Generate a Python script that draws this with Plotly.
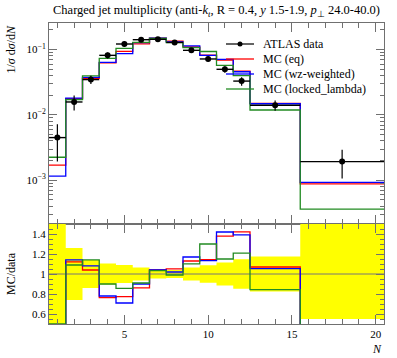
import plotly.graph_objects as go

# ---------------- data ----------------
bin_edges = [0.5, 1.5, 2.5, 3.5, 4.5, 5.5, 6.5, 7.5, 8.5, 9.5, 10.5, 11.5, 12.5, 15.5, 20.5]

data_vals = [4.5e-3, 0.0158, 0.0348, 0.0818, 0.122, 0.142, 0.144, 0.129, 0.0976,
             0.072, 0.050, 0.033, 0.0141, 1.93e-3]
data_err_up = [2.7e-3, 0.0041, 0.0049, 0.0086, 0.011, 0.0092, 0.0065, 0.0052, 0.0063,
               0.0063, 0.0058, 0.0049, 0.00247, 1.0e-3]
data_err_dn = [2.57e-3, 0.0041, 0.0049, 0.0086, 0.011, 0.0092, 0.0065, 0.0052, 0.0063,
               0.0063, 0.0058, 0.0049, 0.00247, 0.87e-3]

mc_eq = [1.71e-3, 0.0177, 0.0362, 0.0625, 0.0944, 0.1224, 0.1498, 0.1355, 0.1103,
         0.0824, 0.0689, 0.0469, 0.01509, 8.8e-4]
mc_wz = [1.16e-3, 0.01804, 0.0376, 0.0638, 0.0866, 0.1278, 0.1498, 0.1316, 0.1142,
         0.0817, 0.071, 0.0459, 0.01485, 9.3e-4]
mc_locked = [2.25e-3, 0.01722, 0.0397, 0.0736, 0.1044, 0.1292, 0.149, 0.1277, 0.1074,
             0.0936, 0.0575, 0.0399, 0.01191, 3.6e-4]

series_names = ["MC (eq)", "MC (wz-weighted)", "MC (locked_lambda)"]
series_colors = ["#ff0000", "#0000ff", "#228b22"]

x_tick_vals = [5, 10, 15, 20]
ratio_tick_vals = [0.6, 0.8, 1.0, 1.2, 1.4]
ratio_tick_text = ["0.6", "0.8", "1", "1.2", "1.4"]
main_tick_vals = [1e-3, 1e-2, 1e-1]
main_tick_text = ["10<sup>\u22123</sup>", "10<sup>\u22122</sup>", "10<sup>\u22121</sup>"]

# ---------------- geometry ----------------
W, H = 397, 358
L, R, T, B = 49, 13, 23, 34
plot_h = H - T - B
split_px = 224  # boundary between main and ratio panel
ratio_top = (H - B - split_px) / plot_h

def px_x(x):
    return (x - L) / (W - L - R)

def px_y(y):
    return (H - B - y) / plot_h

FONT = "Liberation Serif"
centers = [(bin_edges[i] + bin_edges[i + 1]) / 2 for i in range(len(data_vals))]
half_w = [(bin_edges[i + 1] - bin_edges[i]) / 2 for i in range(len(data_vals))]

fig = go.Figure()

# ---------------- main panel ----------------
for vals, name, col in zip([mc_eq, mc_wz, mc_locked], series_names, series_colors):
    fig.add_trace(go.Scatter(
        x=bin_edges, y=list(vals) + [vals[-1]], mode="lines", line_shape="hv",
        line=dict(color=col, width=1.3), name=name, showlegend=False,
        xaxis="x", yaxis="y"))

fig.add_trace(go.Scatter(
    x=centers, y=data_vals, mode="markers", name="ATLAS data", showlegend=False,
    marker=dict(color="black", size=6),
    error_x=dict(type="data", array=half_w, color="black", thickness=1.4, width=0),
    error_y=dict(type="data", array=data_err_up, arrayminus=data_err_dn, symmetric=False,
                 color="black", thickness=1.2, width=0),
    xaxis="x", yaxis="y"))

# ---------------- ratio panel ----------------
band_lo = [1 - dn / v for dn, v in zip(data_err_dn, data_vals)]
band_hi = [1 + up / v for up, v in zip(data_err_up, data_vals)]
band_lo[0], band_hi[0] = 0.0, 3.0
band_lo[-1], band_hi[-1] = 1 - data_err_dn[-1] / data_vals[-1], 3.0

fig.add_trace(go.Scatter(
    x=bin_edges, y=band_lo + [band_lo[-1]], mode="lines", line_shape="hv",
    line=dict(width=0, color="yellow"), showlegend=False, hoverinfo="skip",
    xaxis="x2", yaxis="y2"))
fig.add_trace(go.Scatter(
    x=bin_edges, y=band_hi + [band_hi[-1]], mode="lines", line_shape="hv",
    line=dict(width=0, color="yellow"), fill="tonexty", fillcolor="#ffff00",
    showlegend=False, hoverinfo="skip", xaxis="x2", yaxis="y2"))
fig.add_trace(go.Scatter(
    x=[bin_edges[0], bin_edges[-1]], y=[1, 1], mode="lines",
    line=dict(color="#777777", width=1), showlegend=False, hoverinfo="skip",
    xaxis="x2", yaxis="y2"))

for vals, name, col in zip([mc_eq, mc_wz, mc_locked], series_names, series_colors):
    ratio = [m / d for m, d in zip(vals, data_vals)]
    fig.add_trace(go.Scatter(
        x=bin_edges, y=ratio + [ratio[-1]], mode="lines", line_shape="hv",
        line=dict(color=col, width=1.3), showlegend=False,
        xaxis="x2", yaxis="y2"))

# ---------------- axes ----------------
AX = "#707070"
minor_log = [m * 10 ** e for e in (-4, -3, -2, -1) for m in range(2, 10)]
common = dict(showline=True, linecolor=AX, linewidth=1, mirror="allticks",
              ticks="inside", tickcolor=AX, showgrid=False, zeroline=False,
              automargin=False,
              tickfont=dict(family=FONT, size=11, color="black"))

fig.update_layout(
    width=W, height=H,
    margin=dict(l=L, r=R, t=T, b=B, autoexpand=False),
    paper_bgcolor="white", plot_bgcolor="white",
    showlegend=False, hovermode=False,
    xaxis=dict(domain=[0, 1], range=[0.5, 20.5], anchor="y", showticklabels=False,
               tickvals=x_tick_vals, ticklen=9,
               minor=dict(dtick=1, ticklen=5, ticks="inside", tickcolor=AX, showgrid=False),
               **common),
    yaxis=dict(domain=[ratio_top, 1], type="log", range=[-3.67, -0.592], anchor="x",
               tickvals=main_tick_vals, ticktext=main_tick_text, ticklen=8,
               minor=dict(tickvals=minor_log, ticklen=4, ticks="inside", tickcolor=AX,
                          showgrid=False),
               **common),
    xaxis2=dict(domain=[0, 1], range=[0.5, 20.5], anchor="y2",
                tickvals=x_tick_vals, ticklen=9,
                minor=dict(dtick=1, ticklen=5, ticks="inside", tickcolor=AX, showgrid=False),
                **common),
    yaxis2=dict(domain=[0, ratio_top], range=[0.5, 1.5], anchor="x2",
                tickvals=ratio_tick_vals, ticktext=ratio_tick_text, ticklen=8,
                minor=dict(dtick=0.05, tick0=0.5, ticklen=4, ticks="inside", tickcolor=AX,
                           showgrid=False),
                **common),
)

# ---------------- text ----------------
ann = []
ann.append(dict(text="Charged jet multiplicity (anti-<i>k</i><sub><i>t</i></sub>, R = 0.4, "
                     "<i>y</i> 1.5-1.9, <i>p</i><sub>\u22a5</sub> 24.0-40.0)",
                x=0.5, y=px_y(11), xref="paper", yref="paper", xanchor="center",
                yanchor="middle", showarrow=False,
                font=dict(family=FONT, size=12.5, color="black")))
ann.append(dict(text="1/<i>\u03c3</i> d<i>\u03c3</i>/d<i>N</i>", textangle=-90,
                x=px_x(10), y=1, xref="paper", yref="paper", xanchor="center",
                yanchor="top", showarrow=False,
                font=dict(family=FONT, size=12, color="black")))
ann.append(dict(text="MC/data", textangle=-90,
                x=px_x(11), y=px_y(274), xref="paper", yref="paper", xanchor="center",
                yanchor="middle", showarrow=False,
                font=dict(family=FONT, size=12, color="black")))
ann.append(dict(text="<i>N</i>", x=1, y=px_y(349), xref="paper", yref="paper",
                xanchor="right", yanchor="middle", showarrow=False,
                font=dict(family=FONT, size=12, color="black")))

# legend (manual)
leg_labels = ["ATLAS data"] + series_names
leg_colors = ["black"] + series_colors
leg_y = [44, 59, 74, 89]
shapes = []
for lab, col, yy in zip(leg_labels, leg_colors, leg_y):
    shapes.append(dict(type="line", xref="paper", yref="paper",
                       x0=px_x(226), x1=px_x(254), y0=px_y(yy), y1=px_y(yy),
                       line=dict(color=col if col != "black" else "#222222",
                                 width=1.3 if col != "black" else 1.4)))
    ann.append(dict(text=lab, x=px_x(261), y=px_y(yy), xref="paper", yref="paper",
                    xanchor="left", yanchor="middle", showarrow=False,
                    font=dict(family=FONT, size=12, color="black")))
shapes.append(dict(type="circle", xref="paper", yref="paper",
                   x0=px_x(237.5), x1=px_x(242.5), y0=px_y(46.5), y1=px_y(41.5),
                   fillcolor="black", line=dict(color="black", width=0)))

fig.update_layout(annotations=ann, shapes=shapes)

fig.write_html("out.html", config={"displayModeBar": False, "staticPlot": True},
               post_script="document.body.style.margin='0';document.body.style.padding='0';")
